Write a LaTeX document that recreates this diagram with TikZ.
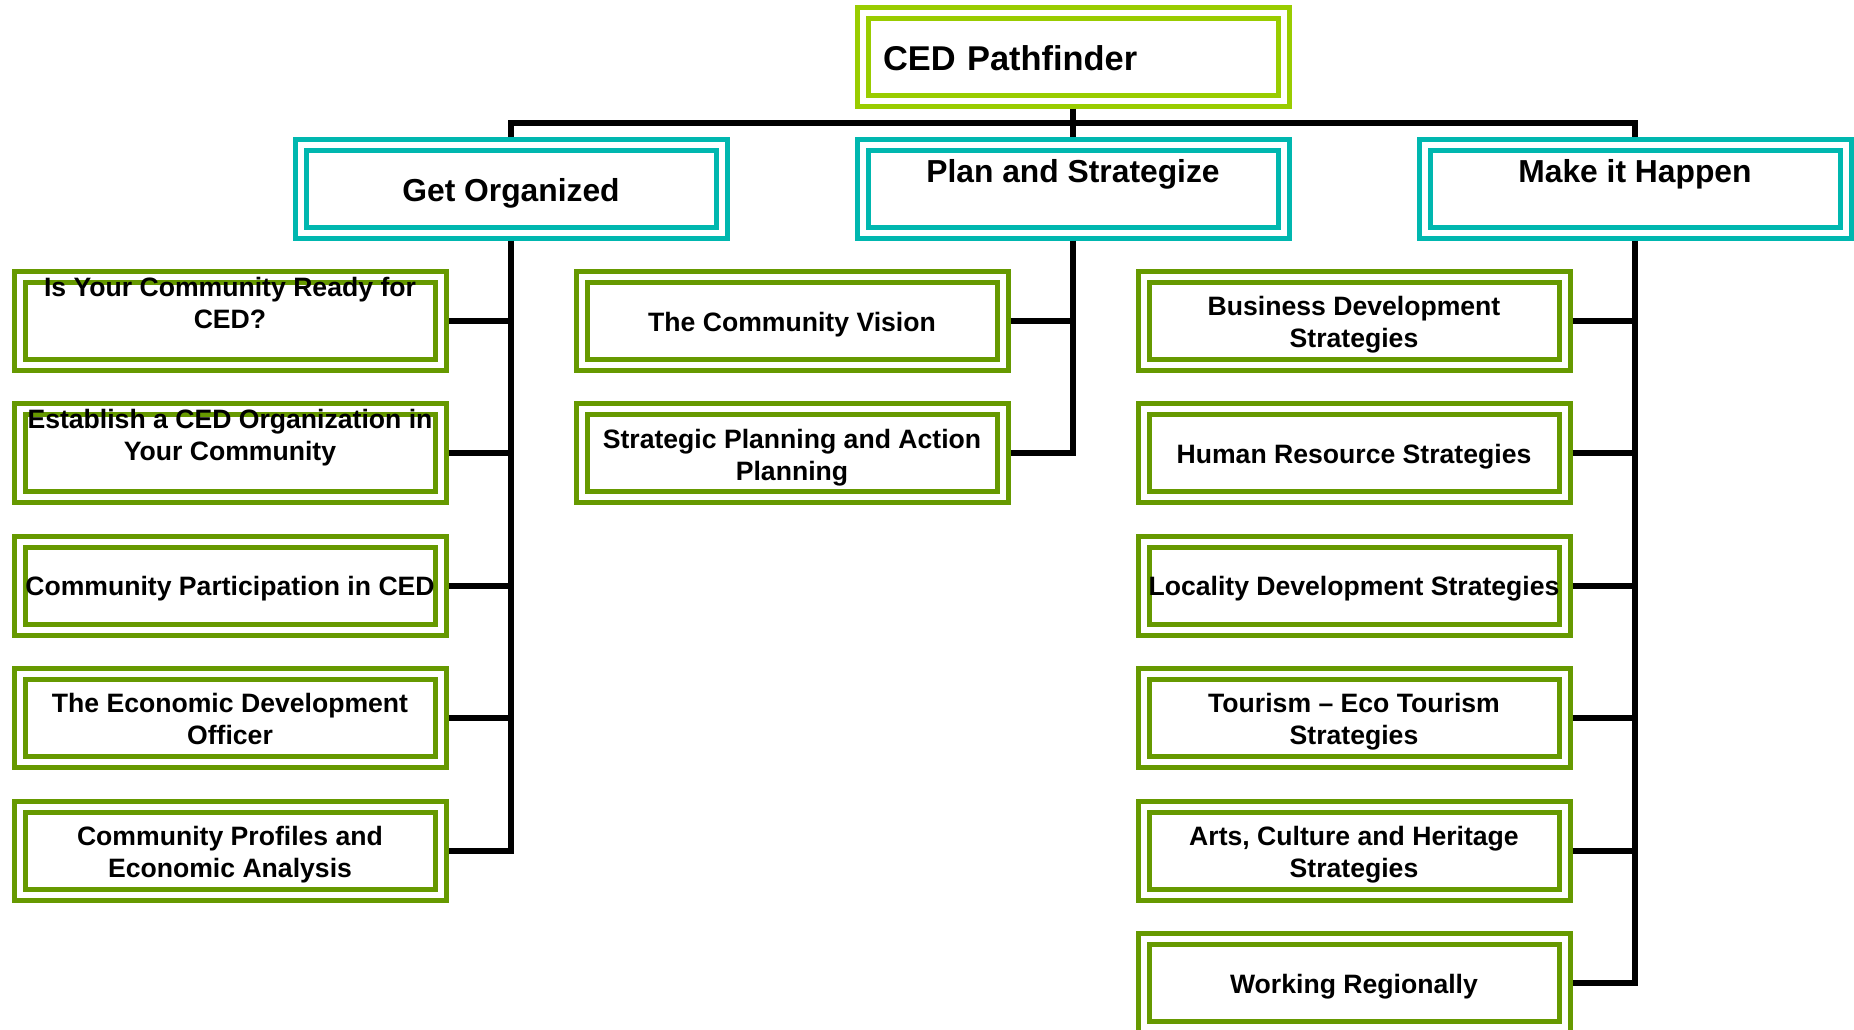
\documentclass[tikz,border=0pt]{standalone}
\usepackage{fontspec}
\setmainfont{Liberation Sans}
\usetikzlibrary{positioning,calc}

\definecolor{rootgreen}{RGB}{153,204,0}
\definecolor{stageteal}{RGB}{0,183,175}
\definecolor{topicgreen}{RGB}{102,153,0}

\tikzset{
  framebox/.style={rectangle, draw=#1, double=white, double distance=3pt, line width=2.5pt,
    minimum width=210.5pt, minimum height=44pt, inner sep=2pt, outer sep=4pt, align=center},
  rootbox/.style={framebox=rootgreen, text width=190pt, inner xsep=10pt, align=left,
    text height=13.7pt, text depth=0pt, font=\bfseries\fontsize{17.2}{20}\selectfont},
  stagebox/.style={framebox=stageteal, text height=13.3pt, text depth=0pt,
    font=\bfseries\fontsize{15.9}{19}\selectfont},
  topicbox/.style={framebox=topicgreen, text height=10pt, text depth=0pt,
    font=\bfseries\fontsize{13.3}{16}\selectfont},
  % text sitting high in the box
  raised/.style={text height=0pt, text depth=5.7pt},
  lifted/.style={text height=7pt, text depth=0pt},
  twoline/.style={text height=27pt, text depth=0.3pt},
  wire/.style={line width=3pt, black},
}

\begin{document}
\begin{tikzpicture}[x=0.5pt, y=-0.5pt, node distance=14.2pt]
\useasboundingbox (0,0) rectangle (1854,1029);

% top of the tree
\node[rootbox] (pathfinder) at (1073,56.5) {CED Pathfinder};

% the three stages
\node[stagebox] (organize) at (511,188.5) {Get Organized};
\node[stagebox, raised] (strategize) at (1073,188.5) {Plan and Strategize};
\node[stagebox, raised] (happen) at (1635,188.5) {Make it Happen};

% Get Organized topics
\node[topicbox, lifted] (ready) at (230,321) {Is Your Community Ready for\\CED?};
\node[topicbox, lifted, below=of ready] (establish) {Establish a CED Organization in\\Your Community};
\node[topicbox, below=of establish] (participation) {Community Participation in CED};
\node[topicbox, twoline, below=of participation] (officer) {The Economic Development\\Officer};
\node[topicbox, twoline, below=of officer] (profiles) {Community Profiles and\\Economic Analysis};

% Plan and Strategize topics
\node[topicbox] (vision) at (792,321) {The Community Vision};
\node[topicbox, twoline, below=of vision] (planning) {Strategic Planning and Action\\Planning};

% Make it Happen topics
\node[topicbox, twoline] (business) at (1354,321) {Business Development\\Strategies};
\node[topicbox, below=of business] (human) {Human Resource Strategies};
\node[topicbox, below=of human] (locality) {Locality Development Strategies};
\node[topicbox, twoline, below=of locality] (tourism) {Tourism – Eco Tourism\\Strategies};
\node[topicbox, twoline, below=of tourism] (arts) {Arts, Culture and Heritage\\Strategies};
\node[topicbox, below=of arts] (regional) {Working Regionally};

% bus under the top box
\draw[wire] (pathfinder.south) -- (strategize.north);
\draw[wire] (organize.north) |- ($(pathfinder.south)!.5!(strategize.north)$) -| (happen.north);

% spines and stubs
\draw[wire] (organize.south) |- (profiles.east);
\foreach \n in {ready,establish,participation,officer}
  \draw[wire] (\n.east) -- (\n.east -| organize.south);

\draw[wire] (strategize.south) |- (planning.east);
\draw[wire] (vision.east) -- (vision.east -| strategize.south);

\draw[wire] (happen.south) |- (regional.east);
\foreach \n in {business,human,locality,tourism,arts}
  \draw[wire] (\n.east) -- (\n.east -| happen.south);

\end{tikzpicture}
\end{document}
